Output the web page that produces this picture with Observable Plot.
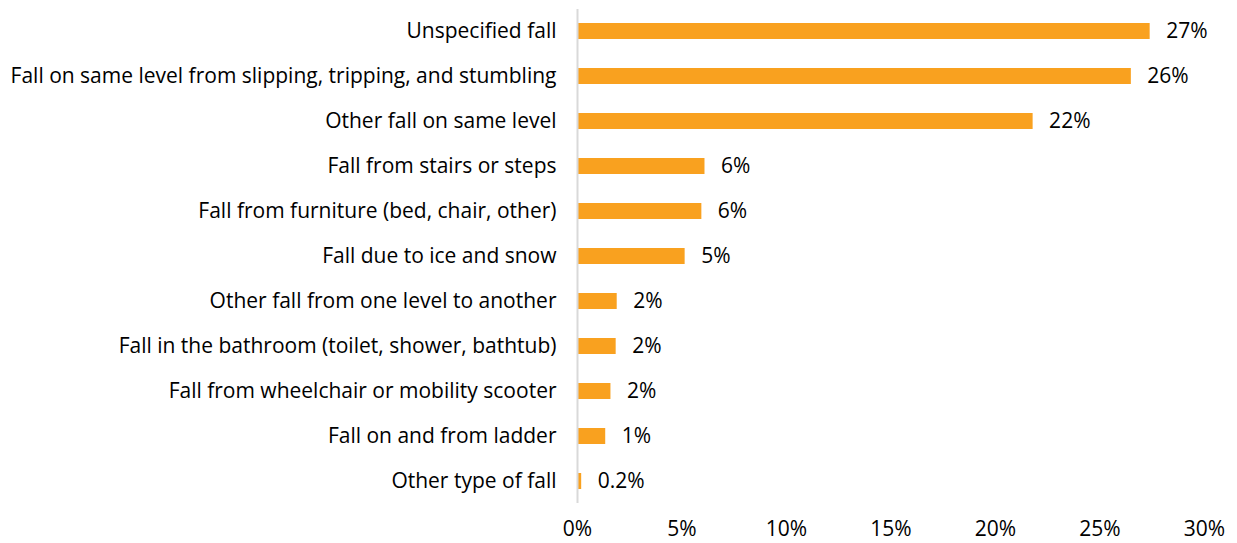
<!DOCTYPE html>
<html>
<head>
<meta charset="utf-8">
<script src="https://cdn.jsdelivr.net/npm/d3@7"></script>
<script src="https://cdn.jsdelivr.net/npm/@observablehq/plot@0.6"></script>
<style>
  html, body { margin: 0; padding: 0; background: #fff; }
  #chart { width: 1237px; height: 543px; }
</style>
</head>
<body>
<div id="chart"></div>
<script>
const categories = [
  "Unspecified fall",
  "Fall on same level from slipping, tripping, and stumbling",
  "Other fall on same level",
  "Fall from stairs or steps",
  "Fall from furniture (bed, chair, other)",
  "Fall due to ice and snow",
  "Other fall from one level to another",
  "Fall in the bathroom (toilet, shower, bathtub)",
  "Fall from wheelchair or mobility scooter",
  "Fall on and from ladder",
  "Other type of fall"
];
const values = [27.4, 26.5, 21.8, 6.1, 5.95, 5.15, 1.9, 1.85, 1.6, 1.35, 0.2];
const valueLabels = ["27%", "26%", "22%", "6%", "6%", "5%", "2%", "2%", "2%", "1%", "0.2%"];
const xTicks = [0, 5, 10, 15, 20, 25, 30];

const data = categories.map((c, i) => ({category: c, value: values[i], label: valueLabels[i]}));

const chart = Plot.plot({
  width: 1237,
  height: 543,
  marginLeft: 577,
  marginRight: 33,
  marginTop: 9,
  marginBottom: 40,
  style: {fontFamily: "'Open Sans', Lato, sans-serif", fontSize: "21px", color: "#000", background: "#fff"},
  x: {domain: [0, 30], ticks: xTicks, tickFormat: d => d + "%", label: null},
  y: {domain: categories, paddingInner: 0.645, paddingOuter: 0.3, label: null},
  marks: [
    Plot.axisX({ticks: xTicks, tickFormat: d => d + "%", tickSize: 0, tickPadding: 18, label: null}),
    Plot.axisY({tickSize: 0, tickPadding: 21, label: null}),
    Plot.barX(data, {x: "value", y: "category", fill: "#F9A11F"}),
    Plot.ruleX([0], {stroke: "#D9D9D9", strokeWidth: 2}),
    Plot.text(data, {x: "value", y: "category", text: "label", textAnchor: "start", dx: 16, fill: "#000"})
  ]
});
document.getElementById("chart").appendChild(chart);
</script>
</body>
</html>
